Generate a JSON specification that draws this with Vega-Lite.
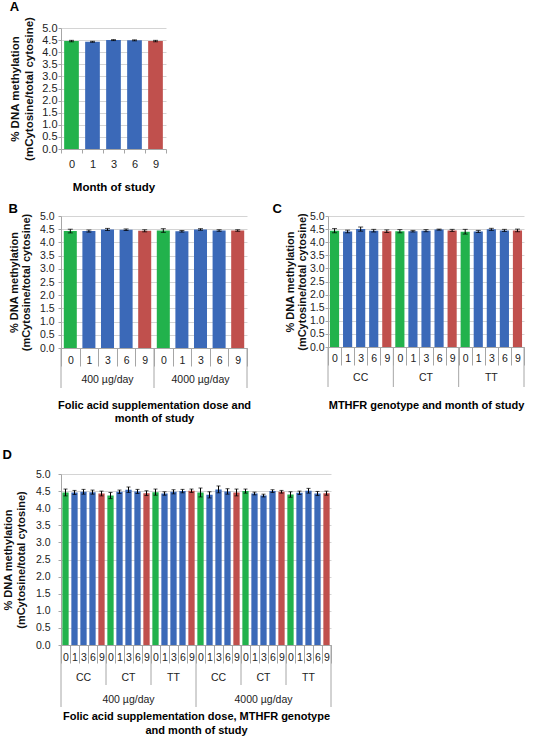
{
  "$schema": "https://vega.github.io/schema/vega-lite/v6.json",
  "padding": {"left": 2, "top": 0, "right": 0, "bottom": 0},
  "background": "white",
  "config": {
    "font": "Liberation Sans",
    "view": {"stroke": null},
    "title": {"fontSize": 13, "fontWeight": "bold", "anchor": "start", "frame": "bounds", "color": "#000"}
  },
  "datasets": {
    "A": [
      {"month": 0, "value": 4.46, "err": 0.03},
      {"month": 1, "value": 4.43, "err": 0.02},
      {"month": 3, "value": 4.50, "err": 0.02},
      {"month": 6, "value": 4.49, "err": 0.02},
      {"month": 9, "value": 4.46, "err": 0.03}
    ],
    "B": [
      {"bar": "400-0", "dose": "400 µg/day", "month": 0, "value": 4.43, "err": 0.07},
      {"bar": "400-1", "dose": "400 µg/day", "month": 1, "value": 4.43, "err": 0.04},
      {"bar": "400-3", "dose": "400 µg/day", "month": 3, "value": 4.49, "err": 0.04},
      {"bar": "400-6", "dose": "400 µg/day", "month": 6, "value": 4.48, "err": 0.03},
      {"bar": "400-9", "dose": "400 µg/day", "month": 9, "value": 4.44, "err": 0.04},
      {"bar": "4000-0", "dose": "4000 µg/day", "month": 0, "value": 4.45, "err": 0.07},
      {"bar": "4000-1", "dose": "4000 µg/day", "month": 1, "value": 4.42, "err": 0.03},
      {"bar": "4000-3", "dose": "4000 µg/day", "month": 3, "value": 4.49, "err": 0.03},
      {"bar": "4000-6", "dose": "4000 µg/day", "month": 6, "value": 4.45, "err": 0.03},
      {"bar": "4000-9", "dose": "4000 µg/day", "month": 9, "value": 4.45, "err": 0.03}
    ],
    "C": [
      {"bar": "CC-0", "genotype": "CC", "month": 0, "value": 4.44, "err": 0.08},
      {"bar": "CC-1", "genotype": "CC", "month": 1, "value": 4.41, "err": 0.05},
      {"bar": "CC-3", "genotype": "CC", "month": 3, "value": 4.50, "err": 0.08},
      {"bar": "CC-6", "genotype": "CC", "month": 6, "value": 4.44, "err": 0.05},
      {"bar": "CC-9", "genotype": "CC", "month": 9, "value": 4.42, "err": 0.05},
      {"bar": "CT-0", "genotype": "CT", "month": 0, "value": 4.42, "err": 0.06},
      {"bar": "CT-1", "genotype": "CT", "month": 1, "value": 4.42, "err": 0.03},
      {"bar": "CT-3", "genotype": "CT", "month": 3, "value": 4.44, "err": 0.04},
      {"bar": "CT-6", "genotype": "CT", "month": 6, "value": 4.48, "err": 0.02},
      {"bar": "CT-9", "genotype": "CT", "month": 9, "value": 4.45, "err": 0.04},
      {"bar": "TT-0", "genotype": "TT", "month": 0, "value": 4.40, "err": 0.09},
      {"bar": "TT-1", "genotype": "TT", "month": 1, "value": 4.41, "err": 0.04},
      {"bar": "TT-3", "genotype": "TT", "month": 3, "value": 4.49, "err": 0.04},
      {"bar": "TT-6", "genotype": "TT", "month": 6, "value": 4.45, "err": 0.04},
      {"bar": "TT-9", "genotype": "TT", "month": 9, "value": 4.45, "err": 0.05}
    ],
    "D": [
      {"bar": "400-CC-0", "dose": "400 µg/day", "genotype": "CC", "month": 0, "value": 4.46, "err": 0.10},
      {"bar": "400-CC-1", "dose": "400 µg/day", "genotype": "CC", "month": 1, "value": 4.46, "err": 0.06},
      {"bar": "400-CC-3", "dose": "400 µg/day", "genotype": "CC", "month": 3, "value": 4.48, "err": 0.07},
      {"bar": "400-CC-6", "dose": "400 µg/day", "genotype": "CC", "month": 6, "value": 4.47, "err": 0.06},
      {"bar": "400-CC-9", "dose": "400 µg/day", "genotype": "CC", "month": 9, "value": 4.43, "err": 0.07},
      {"bar": "400-CT-0", "dose": "400 µg/day", "genotype": "CT", "month": 0, "value": 4.37, "err": 0.09},
      {"bar": "400-CT-1", "dose": "400 µg/day", "genotype": "CT", "month": 1, "value": 4.48, "err": 0.05},
      {"bar": "400-CT-3", "dose": "400 µg/day", "genotype": "CT", "month": 3, "value": 4.54, "err": 0.08},
      {"bar": "400-CT-6", "dose": "400 µg/day", "genotype": "CT", "month": 6, "value": 4.49, "err": 0.06},
      {"bar": "400-CT-9", "dose": "400 µg/day", "genotype": "CT", "month": 9, "value": 4.44, "err": 0.07},
      {"bar": "400-TT-0", "dose": "400 µg/day", "genotype": "TT", "month": 0, "value": 4.47, "err": 0.09},
      {"bar": "400-TT-1", "dose": "400 µg/day", "genotype": "TT", "month": 1, "value": 4.43, "err": 0.05},
      {"bar": "400-TT-3", "dose": "400 µg/day", "genotype": "TT", "month": 3, "value": 4.48, "err": 0.06},
      {"bar": "400-TT-6", "dose": "400 µg/day", "genotype": "TT", "month": 6, "value": 4.50, "err": 0.05},
      {"bar": "400-TT-9", "dose": "400 µg/day", "genotype": "TT", "month": 9, "value": 4.51, "err": 0.05},
      {"bar": "4000-CC-0", "dose": "4000 µg/day", "genotype": "CC", "month": 0, "value": 4.46, "err": 0.13},
      {"bar": "4000-CC-1", "dose": "4000 µg/day", "genotype": "CC", "month": 1, "value": 4.39, "err": 0.09},
      {"bar": "4000-CC-3", "dose": "4000 µg/day", "genotype": "CC", "month": 3, "value": 4.55, "err": 0.10},
      {"bar": "4000-CC-6", "dose": "4000 µg/day", "genotype": "CC", "month": 6, "value": 4.49, "err": 0.08},
      {"bar": "4000-CC-9", "dose": "4000 µg/day", "genotype": "CC", "month": 9, "value": 4.46, "err": 0.10},
      {"bar": "4000-CT-0", "dose": "4000 µg/day", "genotype": "CT", "month": 0, "value": 4.50, "err": 0.06},
      {"bar": "4000-CT-1", "dose": "4000 µg/day", "genotype": "CT", "month": 1, "value": 4.43, "err": 0.04},
      {"bar": "4000-CT-3", "dose": "4000 µg/day", "genotype": "CT", "month": 3, "value": 4.37, "err": 0.04},
      {"bar": "4000-CT-6", "dose": "4000 µg/day", "genotype": "CT", "month": 6, "value": 4.50, "err": 0.04},
      {"bar": "4000-CT-9", "dose": "4000 µg/day", "genotype": "CT", "month": 9, "value": 4.48, "err": 0.04},
      {"bar": "4000-TT-0", "dose": "4000 µg/day", "genotype": "TT", "month": 0, "value": 4.40, "err": 0.08},
      {"bar": "4000-TT-1", "dose": "4000 µg/day", "genotype": "TT", "month": 1, "value": 4.45, "err": 0.05},
      {"bar": "4000-TT-3", "dose": "4000 µg/day", "genotype": "TT", "month": 3, "value": 4.51, "err": 0.07},
      {"bar": "4000-TT-6", "dose": "4000 µg/day", "genotype": "TT", "month": 6, "value": 4.43, "err": 0.06},
      {"bar": "4000-TT-9", "dose": "4000 µg/day", "genotype": "TT", "month": 9, "value": 4.44, "err": 0.06}
    ]
  },
  "vconcat": [
    {
      "vconcat": [
        {
          "width": 105,
          "height": 121,
          "data": {"name": "A"},
          "title": {"text": "A", "offset": 3},
          "encoding": {
            "x": {"field": "month", "type": "nominal", "scale": {"paddingInner": 0, "paddingOuter": 0},
              "axis": {"labelAngle": 0, "tickBand": "extent", "tickSize": 4, "tickColor": "#a6a6a6", "domainColor": "#a6a6a6", "labelPadding": 5, "labelFontSize": 11, "labelColor": "#222",
                "title": "Month of study", "titleFontSize": 11.5, "titleFontWeight": "bold", "titleColor": "#000", "titlePadding": 12}},
            "y": {"field": "value", "type": "quantitative", "scale": {"domain": [0, 5], "nice": false},
              "axis": {"values": [0, 0.5, 1, 1.5, 2, 2.5, 3, 3.5, 4, 4.5, 5], "format": ".1f", "grid": true, "gridColor": "#d4d4d4", "domainColor": "#a6a6a6", "tickColor": "#a6a6a6", "tickSize": 3, "labelFontSize": 11, "labelColor": "#222", "labelPadding": 1,
                "title": ["% DNA methylation", "(mCytosine/total cytosine)"], "titleFontSize": 11.5, "titleFontWeight": "bold", "titleColor": "#111", "titleLineHeight": 14, "titlePadding": 7}}
          },
          "layer": [
            {"mark": {"type": "bar", "width": {"band": 0.7}},
              "encoding": {"color": {"field": "month", "type": "nominal", "legend": null, "scale": {"domain": [0, 1, 3, 6, 9], "range": ["#22b24c", "#3b69b8", "#3b69b8", "#3b69b8", "#c0504d"]}}}},
            {"mark": {"type": "errorbar", "ticks": {"size": 5, "color": "#000"}, "rule": {"color": "#000"}}, "encoding": {"yError": {"field": "err"}}}
          ]
        },
        {
          "hconcat": [
            {
              "width": 186,
              "height": 132,
              "data": {"name": "B"},
              "title": {"text": "B", "offset": -5},
              "encoding": {
                "x": {"field": "bar", "type": "nominal", "scale": {"paddingInner": 0, "paddingOuter": 0},
                  "axis": {"labelExpr": "slice(datum.label, -1)", "labelAngle": 0, "tickBand": "extent", "tickSize": 18, "tickColor": "#a6a6a6", "domainColor": "#a6a6a6", "labelPadding": -11, "labelFontSize": 10.5, "labelColor": "#222",
                    "title": ["Folic acid supplementation dose and", "month of study"], "titleFontSize": 11, "titleFontWeight": "bold", "titleColor": "#000", "titleLineHeight": 13, "titlePadding": 33}},
                "y": {"field": "value", "type": "quantitative", "scale": {"domain": [0, 5], "nice": false},
                  "axis": {"values": [0, 0.5, 1, 1.5, 2, 2.5, 3, 3.5, 4, 4.5, 5], "format": ".1f", "grid": true, "gridColor": "#d4d4d4", "domainColor": "#a6a6a6", "tickColor": "#a6a6a6", "tickSize": 3, "labelFontSize": 10.5, "labelColor": "#222", "labelPadding": 4,
                    "title": ["% DNA methylation", "(mCytosine/total cytosine)"], "titleFontSize": 11, "titleFontWeight": "bold", "titleColor": "#111", "titleLineHeight": 12, "titlePadding": 8}}
              },
              "layer": [
                {"mark": {"type": "bar", "width": {"band": 0.7}},
                  "encoding": {"color": {"field": "month", "type": "nominal", "legend": null, "scale": {"domain": [0, 1, 3, 6, 9], "range": ["#22b24c", "#3b69b8", "#3b69b8", "#3b69b8", "#c0504d"]}}}},
                {"mark": {"type": "errorbar", "ticks": {"size": 5, "color": "#000"}, "rule": {"color": "#000"}}, "encoding": {"yError": {"field": "err"}}},
                {"transform": [{"filter": "datum.month == 3"}],
                  "mark": {"type": "text", "dy": 32, "baseline": "middle", "fontSize": 10.5, "color": "#222"},
                  "encoding": {"y": {"datum": 0}, "text": {"field": "dose"}}},
                {"transform": [{"filter": "datum.month == 0"}],
                  "mark": {"type": "rule", "y2Offset": 40, "color": "#a6a6a6"},
                  "encoding": {"x": {"field": "bar", "type": "nominal", "bandPosition": 0}, "y": {"datum": 0}, "y2": {"datum": 0}}},
                {"transform": [{"filter": "datum.bar == '4000-9'"}],
                  "mark": {"type": "rule", "y2Offset": 40, "color": "#a6a6a6"},
                  "encoding": {"x": {"field": "bar", "type": "nominal", "bandPosition": 1}, "y": {"datum": 0}, "y2": {"datum": 0}}}
              ]
            },
            {
              "width": 196,
              "height": 131,
              "data": {"name": "C"},
              "title": {"text": "C", "offset": -5, "dx": -12},
              "encoding": {
                "x": {"field": "bar", "type": "nominal", "scale": {"paddingInner": 0, "paddingOuter": 0},
                  "axis": {"labelExpr": "slice(datum.label, -1)", "labelAngle": 0, "tickBand": "extent", "tickSize": 18, "tickColor": "#a6a6a6", "domainColor": "#a6a6a6", "labelPadding": -12, "labelFontSize": 10.5, "labelColor": "#222",
                    "title": "MTHFR genotype and month of study", "titleFontSize": 11, "titleFontWeight": "bold", "titleColor": "#000", "titlePadding": 34}},
                "y": {"field": "value", "type": "quantitative", "scale": {"domain": [0, 5], "nice": false},
                  "axis": {"values": [0, 0.5, 1, 1.5, 2, 2.5, 3, 3.5, 4, 4.5, 5], "format": ".1f", "grid": true, "gridColor": "#d4d4d4", "domainColor": "#a6a6a6", "tickColor": "#a6a6a6", "tickSize": 3, "labelFontSize": 10.5, "labelColor": "#222", "labelPadding": 1,
                    "title": ["% DNA methylation", "(mCytosine/total cytosine)"], "titleFontSize": 11, "titleFontWeight": "bold", "titleColor": "#111", "titleLineHeight": 12, "titlePadding": 2}}
              },
              "layer": [
                {"mark": {"type": "bar", "width": {"band": 0.7}},
                  "encoding": {"color": {"field": "month", "type": "nominal", "legend": null, "scale": {"domain": [0, 1, 3, 6, 9], "range": ["#22b24c", "#3b69b8", "#3b69b8", "#3b69b8", "#c0504d"]}}}},
                {"mark": {"type": "errorbar", "ticks": {"size": 5, "color": "#000"}, "rule": {"color": "#000"}}, "encoding": {"yError": {"field": "err"}}},
                {"transform": [{"filter": "datum.month == 3"}],
                  "mark": {"type": "text", "dy": 31, "baseline": "middle", "fontSize": 10.5, "color": "#222"},
                  "encoding": {"y": {"datum": 0}, "text": {"field": "genotype"}}},
                {"transform": [{"filter": "datum.month == 0"}],
                  "mark": {"type": "rule", "y2Offset": 40, "color": "#a6a6a6"},
                  "encoding": {"x": {"field": "bar", "type": "nominal", "bandPosition": 0}, "y": {"datum": 0}, "y2": {"datum": 0}}},
                {"transform": [{"filter": "datum.bar == 'TT-9'"}],
                  "mark": {"type": "rule", "y2Offset": 40, "color": "#a6a6a6"},
                  "encoding": {"x": {"field": "bar", "type": "nominal", "bandPosition": 1}, "y": {"datum": 0}, "y2": {"datum": 0}}}
              ]
            }
          ],
          "spacing": 21
        }
      ],
      "spacing": 10
    },
    {
      "width": 270,
      "height": 171,
      "data": {"name": "D"},
      "title": {"text": "D", "offset": 7},
      "encoding": {
        "x": {"field": "bar", "type": "nominal", "scale": {"paddingInner": 0, "paddingOuter": 0},
          "axis": {"labelExpr": "slice(datum.label, -1)", "labelAngle": 0, "tickBand": "extent", "tickSize": 18, "tickColor": "#a6a6a6", "domainColor": "#a6a6a6", "labelPadding": -11, "labelFontSize": 10.5, "labelColor": "#222",
            "title": ["Folic acid supplementation dose, MTHFR genotype", "and month of study"], "titleFontSize": 11, "titleFontWeight": "bold", "titleColor": "#000", "titleLineHeight": 14, "titlePadding": 47}},
        "y": {"field": "value", "type": "quantitative", "scale": {"domain": [0, 5], "nice": false},
          "axis": {"values": [0, 0.5, 1, 1.5, 2, 2.5, 3, 3.5, 4, 4.5, 5], "format": ".1f", "grid": true, "gridColor": "#d4d4d4", "domainColor": "#a6a6a6", "tickColor": "#a6a6a6", "tickSize": 3, "labelFontSize": 10.5, "labelColor": "#222", "labelPadding": 8,
            "title": ["% DNA methylation", "(mCytosine/total cytosine)"], "titleFontSize": 11, "titleFontWeight": "bold", "titleColor": "#111", "titleLineHeight": 13, "titlePadding": 9}}
      },
      "layer": [
        {"mark": {"type": "bar", "width": {"band": 0.7}},
          "encoding": {"color": {"field": "month", "type": "nominal", "legend": null, "scale": {"domain": [0, 1, 3, 6, 9], "range": ["#22b24c", "#3b69b8", "#3b69b8", "#3b69b8", "#c0504d"]}}}},
        {"mark": {"type": "errorbar", "ticks": {"size": 4, "color": "#000"}, "rule": {"color": "#000"}}, "encoding": {"yError": {"field": "err"}}},
        {"transform": [{"filter": "datum.month == 3"}],
          "mark": {"type": "text", "dy": 33, "baseline": "middle", "fontSize": 10.5, "color": "#222"},
          "encoding": {"y": {"datum": 0}, "text": {"field": "genotype"}}},
        {"transform": [{"filter": "datum.month == 3 && datum.genotype == 'CT'"}],
          "mark": {"type": "text", "dy": 55, "baseline": "middle", "fontSize": 10.5, "color": "#222"},
          "encoding": {"y": {"datum": 0}, "text": {"field": "dose"}}},
        {"transform": [{"filter": "datum.month == 0 && datum.genotype != 'CC'"}],
          "mark": {"type": "rule", "y2Offset": 40, "color": "#a6a6a6"},
          "encoding": {"x": {"field": "bar", "type": "nominal", "bandPosition": 0}, "y": {"datum": 0}, "y2": {"datum": 0}}},
        {"transform": [{"filter": "datum.month == 0 && datum.genotype == 'CC'"}],
          "mark": {"type": "rule", "y2Offset": 62, "color": "#a6a6a6"},
          "encoding": {"x": {"field": "bar", "type": "nominal", "bandPosition": 0}, "y": {"datum": 0}, "y2": {"datum": 0}}},
        {"transform": [{"filter": "datum.bar == '4000-TT-9'"}],
          "mark": {"type": "rule", "y2Offset": 62, "color": "#a6a6a6"},
          "encoding": {"x": {"field": "bar", "type": "nominal", "bandPosition": 1}, "y": {"datum": 0}, "y2": {"datum": 0}}}
      ]
    }
  ],
  "spacing": 25
}
